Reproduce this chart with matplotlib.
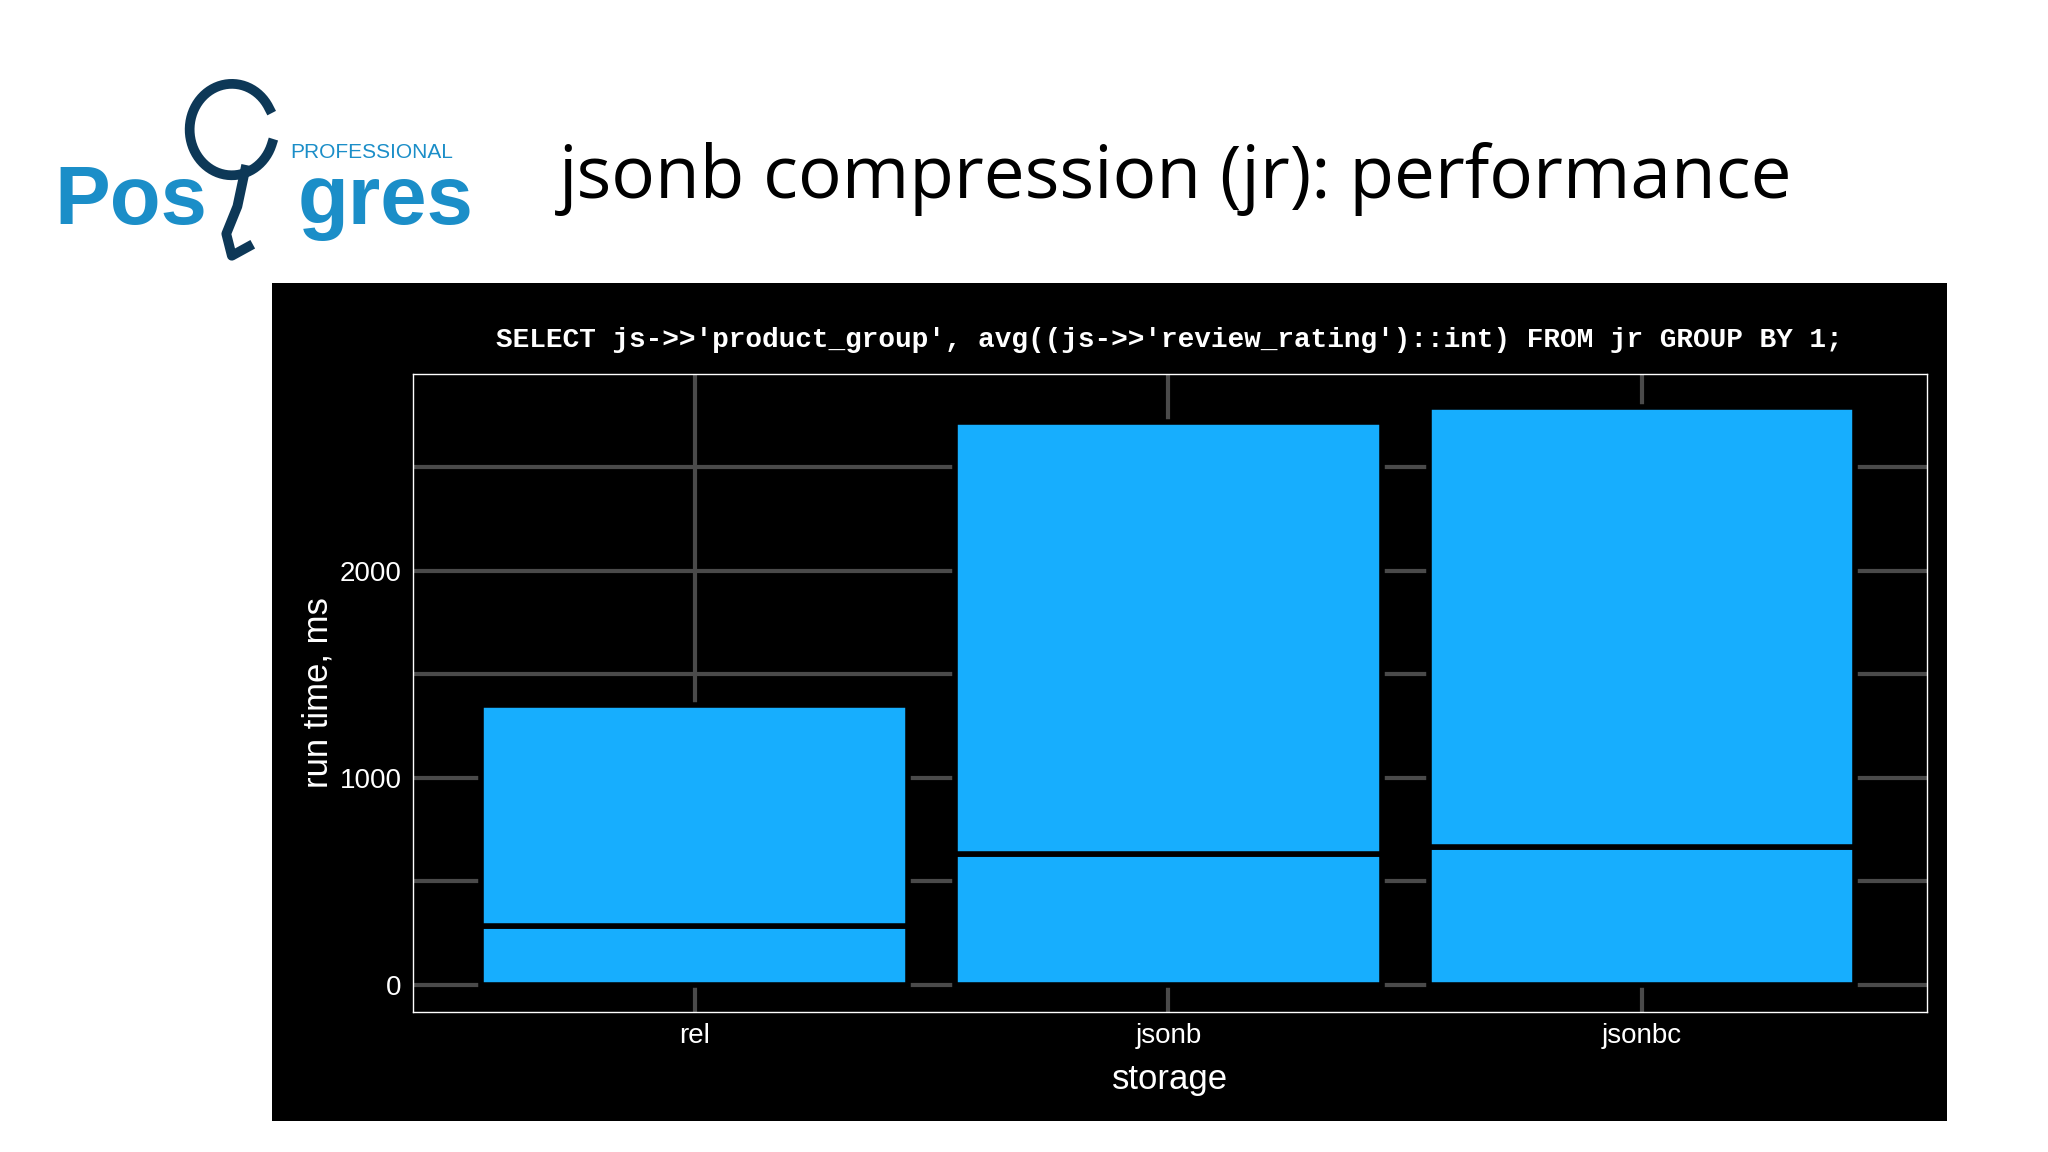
import matplotlib
matplotlib.use('Agg')
import matplotlib.pyplot as plt
import numpy as np

storage = ['rel', 'jsonb', 'jsonbc']
lower_ms = [285, 630, 665]
upper_ms = [1065, 2090, 2125]
query = "SELECT js->>'product_group', avg((js->>'review_rating')::int) FROM jr GROUP BY 1;"

W, H = 1568.0, 882.0
def box(x0, y0, x1, y1):
    return [x0 / W, 1 - y1 / H, (x1 - x0) / W, (y1 - y0) / H]

fig = plt.figure(figsize=(20.48, 11.52), dpi=100, facecolor='white')

# slide title and logo
fig.text(428 / W, 1 - 137 / H, 'jsonb compression (jr): performance', fontsize=52.5,
         color='black', va='center', ha='left', family='Open Sans')
fig.text(42 / W, 1 - 155 / H, 'Pos', fontsize=60, color='#1b8ec8', va='center',
         ha='left', family='Liberation Sans', fontweight='bold')
fig.text(228 / W, 1 - 155 / H, 'gres', fontsize=60, color='#1b8ec8', va='center',
         ha='left', family='Liberation Sans', fontweight='bold')
fig.text(222 / W, 1 - 117 / H, 'PROFESSIONAL', fontsize=15, color='#1b8ec8',
         va='center', ha='left', family='Liberation Sans')
# elephant hint
ele = fig.add_axes(box(135, 60, 220, 200))
ele.axis('off')
t = np.linspace(0.15 * np.pi, 1.9 * np.pi, 200)
ele.plot(0.5 + 0.38 * np.cos(t), 0.72 + 0.25 * np.sin(t), color='#0d3857', lw=7)
ele.plot([0.62, 0.55, 0.45, 0.5, 0.65], [0.5, 0.3, 0.15, 0.03, 0.08], color='#0d3857', lw=7)
ele.set_xlim(0, 1)
ele.set_ylim(0, 1)

# black panel
panel = fig.add_axes(box(208, 217, 1491, 858))
panel.set_facecolor('black')
panel.set_xticks([])
panel.set_yticks([])
for s in panel.spines.values():
    s.set_visible(False)
fig.text(895 / W, 1 - 260 / H, query, fontsize=20, color='white', ha='center',
         va='center', family='Liberation Mono', fontweight='bold')

ax = fig.add_axes(box(316, 286, 1475, 775))
ax.set_facecolor('black')
x = np.arange(1, len(storage) + 1)
ax.set_axisbelow(True)
ax.grid(True, which='both', color='#4a4a4a', lw=3)
ax.set_yticks([0, 1000, 2000])
ax.set_yticks([500, 1500, 2500], minor=True)
ax.set_xticks(x)
ax.set_xticklabels(storage)
ax.bar(x, lower_ms, width=0.9, color='#17aefe', edgecolor='black', lw=4)
ax.bar(x, upper_ms, bottom=lower_ms, width=0.9, color='#17aefe', edgecolor='black', lw=4)
ax.set_xlim(0.405, 3.6)
ax.set_ylim(-132, 2953)
for s in ax.spines.values():
    s.set_color('white')
    s.set_linewidth(1)
ax.tick_params(colors='white', labelsize=20, length=0, pad=8)
for lbl in ax.get_xticklabels() + ax.get_yticklabels():
    lbl.set_family('Liberation Sans')
ax.tick_params(which='minor', length=0)
ax.set_xlabel('storage', color='white', fontsize=25, family='Liberation Sans', labelpad=10)
ax.set_ylabel('run time, ms', color='white', fontsize=25, family='Liberation Sans')

fig.savefig('out.png', dpi=100, facecolor='white')
